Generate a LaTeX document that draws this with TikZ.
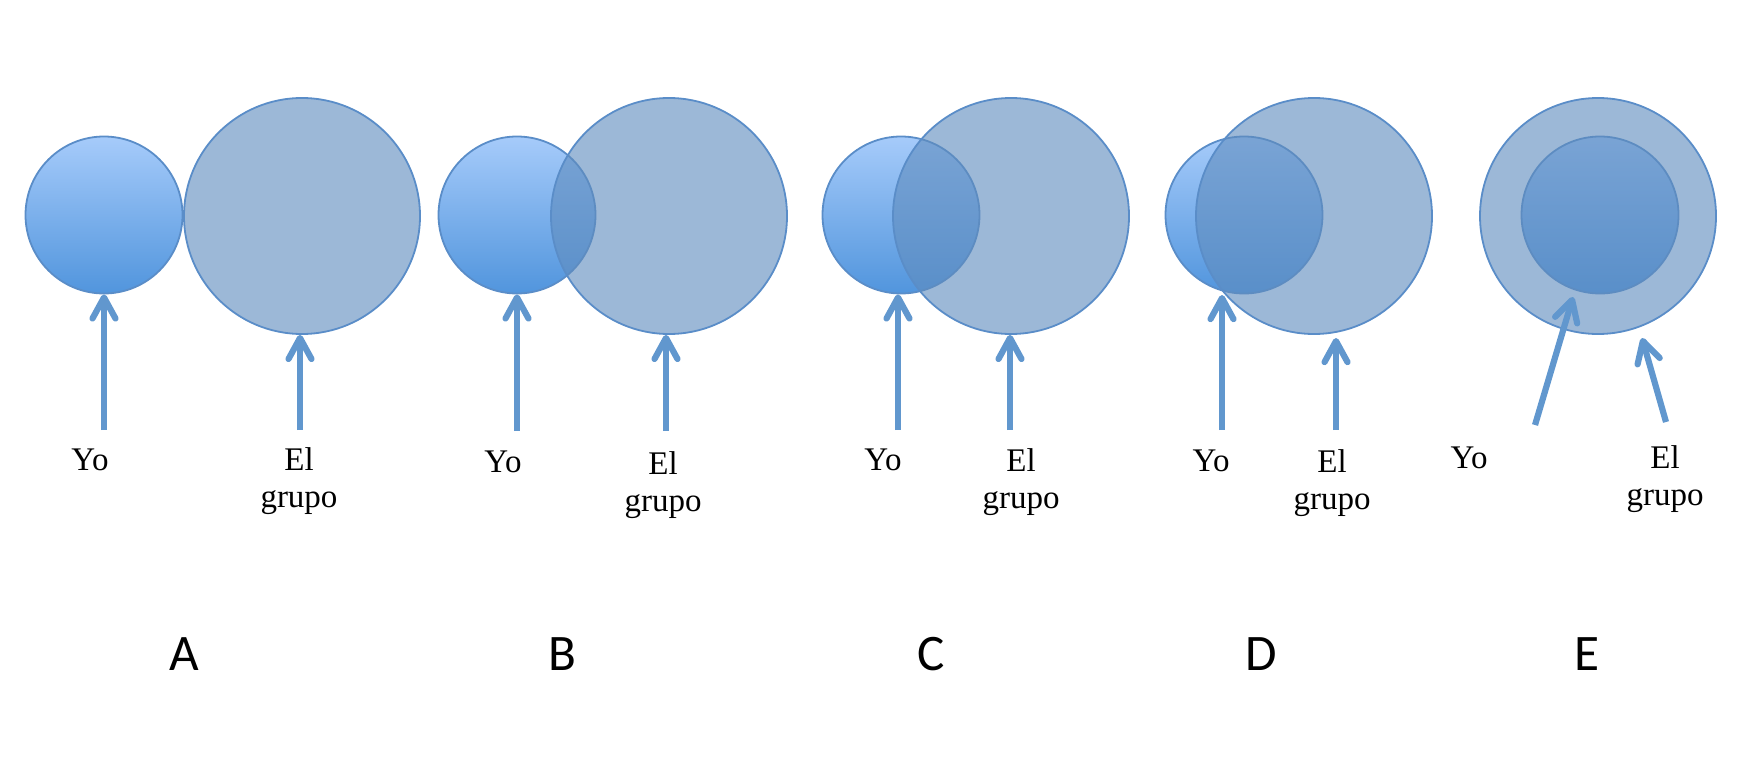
\documentclass[tikz,border=0pt]{standalone}
\usepackage{fontspec}
\setmainfont{Liberation Serif}
\newfontfamily\lettfont{Carlito}
\usetikzlibrary{arrows.meta}
\definecolor{bigc}{HTML}{5F8CBE}
\definecolor{edgec}{HTML}{5A8DC8}
\definecolor{smalltop}{HTML}{A6CBFA}
\definecolor{smallbot}{HTML}{5195DD}
\definecolor{arrowc}{HTML}{6197CE}
\tikzset{
  yocircle/.style={circle, minimum size=78.5pt, inner sep=0pt, draw=edgec, line width=0.9pt, top color=smalltop, bottom color=smallbot},
  grcircle/.style={circle, minimum size=118pt, inner sep=0pt, draw=edgec, line width=0.9pt, fill=bigc, fill opacity=0.62, draw opacity=1},
  arr/.style={draw=arrowc, line width=3.1pt, -{Straight Barb[length=10.5pt,width=11.5pt,round]}},
  lbl/.style={font=\fontsize{16.5}{18.5}\selectfont, inner sep=0pt, align=center},
  letter/.style={font=\lettfont\fontsize{25.6}{28}\selectfont, inner sep=0pt, anchor=base}
}
\begin{document}
\begin{tikzpicture}[x=0.5pt,y=-0.5pt]
\useasboundingbox (0,0) rectangle (1755,765);
% circles
\node[yocircle] (yoA) at (104,215) {};
\node[grcircle] (grA) at (302,216) {};
\node[yocircle] (yoB) at (517,215) {};
\node[grcircle] (grB) at (669,216) {};
\node[yocircle] (yoC) at (901,215) {};
\node[grcircle] (grC) at (1011,216) {};
\node[yocircle] (yoD) at (1244,215) {};
\node[grcircle] (grD) at (1314,216) {};
\node[yocircle] (yoE) at (1600,215) {};
\node[grcircle] (grE) at (1598,216) {};
% labels
\node[lbl, anchor=base] (tyA) at (90,470) {Yo};
\node[lbl, anchor=north] (tgA) at (299,447) {El\\grupo};
\node[lbl, anchor=base] (tyB) at (503,472) {Yo};
\node[lbl, anchor=north] (tgB) at (663,451) {El\\grupo};
\node[lbl, anchor=base] (tyC) at (883,470) {Yo};
\node[lbl, anchor=north] (tgC) at (1021,448) {El\\grupo};
\node[lbl, anchor=base] (tyD) at (1211,471) {Yo};
\node[lbl, anchor=north] (tgD) at (1332,449) {El\\grupo};
\node[lbl, anchor=base] (tyE) at (1469,468) {Yo};
\node[lbl, anchor=north] (tgE) at (1665,445) {El\\grupo};
% arrow tails and free tips
\coordinate (sA1) at (104,430);
\coordinate (sA2) at (300,430);
\coordinate (sB1) at (517,431);
\coordinate (sB2) at (666,431);
\coordinate (sC1) at (898,430);
\coordinate (sC2) at (1010,430);
\coordinate (sD1) at (1222,430);
\coordinate (hD1) at (1222,295);
\coordinate (sD2) at (1336,430);
\coordinate (hD2) at (1336,338);
\coordinate (sE1) at (1535,425);
\coordinate (hE1) at (1573,297);
\coordinate (sE2) at (1666,422);
\coordinate (hE2) at (1642,338);
% arrows
\draw[arr] (sA1) -- (sA1 |- yoA.south);
\draw[arr] (sA2) -- (sA2 |- grA.south);
\draw[arr] (sB1) -- (sB1 |- yoB.south);
\draw[arr] (sB2) -- (sB2 |- grB.south);
\draw[arr] (sC1) -- (sC1 |- yoC.south);
\draw[arr] (sC2) -- (sC2 |- grC.south);
\draw[arr] (sD1) -- (hD1);
\draw[arr] (sD2) -- (hD2);
\draw[arr] (sE1) -- (hE1);
\draw[arr] (sE2) -- (hE2);
% panel letters
\node[letter] (LA) at (184,670) {A};
\node[letter] (LB) at (562,670) {B};
\node[letter] (LC) at (931,670) {C};
\node[letter] (LD) at (1261,670) {D};
\node[letter] (LE) at (1587,670) {E};
\end{tikzpicture}
\end{document}
